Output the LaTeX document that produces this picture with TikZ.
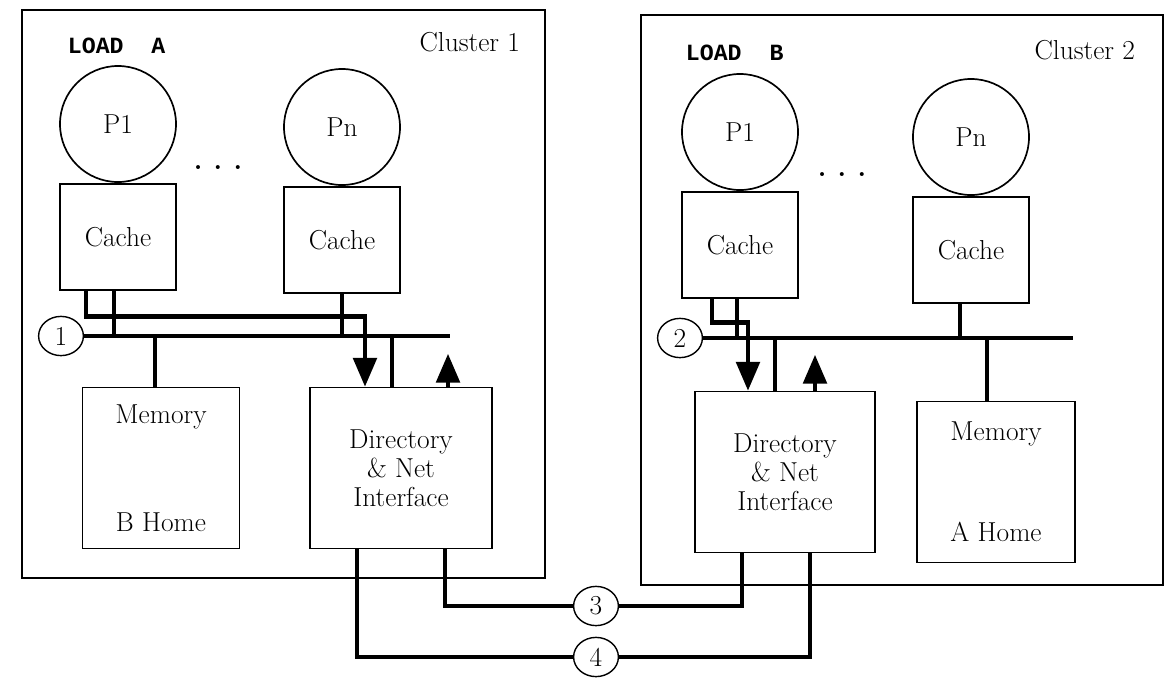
\documentclass[tikz,border=0pt]{standalone}
\usepackage{fontspec}
\setmonofont{Liberation Mono}
\usepackage{tikz}
\usetikzlibrary{arrows.meta,positioning,shapes.geometric,fit}

\begin{document}
\begin{tikzpicture}[
    x=0.025cm, y=-0.025cm,
    >={Triangle[length=0.72cm,width=0.58cm]},
    font=\fontsize{19.5}{20.5}\selectfont,
    cluster/.style={
		draw=black,
		line width=1.1pt,
		inner sep=0pt
	},
    proc/.style={
		circle,
		draw=black,
		line width=1.2pt,
		minimum size=2.9cm,
		inner sep=0pt
	},
    cache/.style={
		rectangle,
		draw=black,
		line width=1.2pt,
		minimum width=2.9cm,
		minimum height=2.65cm
	},
    unit/.style={
		rectangle,
		draw=black,
		line width=1.2pt,
		text centered,
		align=center,
		minimum height=4.02cm
	},
    tag/.style={
		ellipse,
		draw=black,
		line width=1pt,
		minimum width=1.12cm,
		minimum height=0.98cm,
		inner sep=0pt,
		fill=white
	},
    load/.style={
		font=\ttfamily\bfseries\fontsize{16.5}{18}\selectfont
	},
    bus/.style={
		line width=3.3pt
	}
  ]
  \useasboundingbox (0,0) rectangle (1166,680);

  % We start by placing the two clusters
  \node [cluster, fit={(22,10) (545,578)}] (clus1) {};
  \node [cluster, fit={(641,15) (1163,585)}] (clus2) {};

  % cluster 1
  \node [load, anchor=west] (loadA) at (63,46) {LOAD\ \ A};
  \node [anchor=east] (name1) at (525,42) {Cluster 1};
  \node [proc] (p1a) at (118,124) {P1};
  \node [proc] (pna) at (342,127) {Pn};
  \node [cache, below=0pt of p1a] (c1a) {Cache};
  \node [cache, below=0pt of pna] (cna) {Cache};
  \node (dotsa) at (218,168) {\textbf{.}\hspace{8pt}\textbf{.}\hspace{8pt}\textbf{.}};
  \node [unit, minimum width=3.925cm] (mema) at (161,468) {Memory\\[1.98cm]B Home};
  \node [unit, minimum width=4.55cm] (dira) at (401,468) {Directory\\\& Net\\Interface};
  \node [tag] (n1) at (61,336) {1};
  \coordinate (bus1e) at (450,336);

  \draw [bus] (n1.east) -- (bus1e);
  \draw [bus,->] ([xshift=-0.8cm]c1a.south) -- ++(0,26) -| ([xshift=-0.9cm]dira.north);
  \draw [bus] ([xshift=-0.1cm]c1a.south) -- ([xshift=-0.1cm]c1a.south |- n1.east);
  \draw [bus] (cna.south) -- (cna.south |- n1.east);
  \draw [bus] ([xshift=-0.15cm]mema.north) -- ([xshift=-0.15cm]mema.north |- n1.east);
  \draw [bus] ([xshift=-0.225cm]dira.north) -- ([xshift=-0.225cm]dira.north |- n1.east);
  \draw [bus,->] ([xshift=1.175cm]dira.north) -- ++(0,-33);

  % cluster 2
  \node [load, anchor=west] (loadB) at (681,53) {LOAD\ \ B};
  \node [anchor=east] (name2) at (1140,50) {Cluster 2};
  \node [proc] (p1b) at (740,132) {P1};
  \node [proc] (pnb) at (971,137) {Pn};
  \node [cache, below=0pt of p1b] (c1b) {Cache};
  \node [cache, below=0pt of pnb] (cnb) {Cache};
  \node (dotsb) at (842,175) {\textbf{.}\hspace{8pt}\textbf{.}\hspace{8pt}\textbf{.}};
  \node [unit, minimum width=4.5cm] (dirb) at (785,472) {Directory\\\& Net\\Interface};
  \node [unit, minimum width=3.95cm] (memb) at (996,482) {Memory\\[1.8cm]A Home};
  \node [tag] (n2) at (680,338) {2};
  \coordinate (bus2e) at (1073,338);

  \draw [bus] (n2.east) -- (bus2e);
  \draw [bus,->] ([xshift=-0.7cm]c1b.south) -- ++(0,24) -| ([xshift=-0.925cm]dirb.north);
  \draw [bus] ([xshift=-0.075cm]c1b.south) -- ([xshift=-0.075cm]c1b.south |- n2.east);
  \draw [bus] ([xshift=-0.275cm]cnb.south) -- ([xshift=-0.275cm]cnb.south |- n2.east);
  \draw [bus] ([xshift=-0.225cm]memb.north) -- ([xshift=-0.225cm]memb.north |- n2.east);
  \draw [bus] ([xshift=-0.25cm]dirb.north) -- ([xshift=-0.25cm]dirb.north |- n2.east);
  \draw [bus,->] ([xshift=0.75cm]dirb.north) -- ++(0,-36);

  % links between the two net interfaces
  \node [tag] (n3) at (596,606) {3};
  \node [tag] (n4) at (596,657) {4};
  \draw [bus] ([xshift=1.1cm]dira.south) |- (n3);
  \draw [bus] (n3) -| ([xshift=-1.075cm]dirb.south);
  \draw [bus] ([xshift=-1.1cm]dira.south) |- (n4);
  \draw [bus] (n4) -| ([xshift=0.625cm]dirb.south);

\end{tikzpicture}
\end{document}
